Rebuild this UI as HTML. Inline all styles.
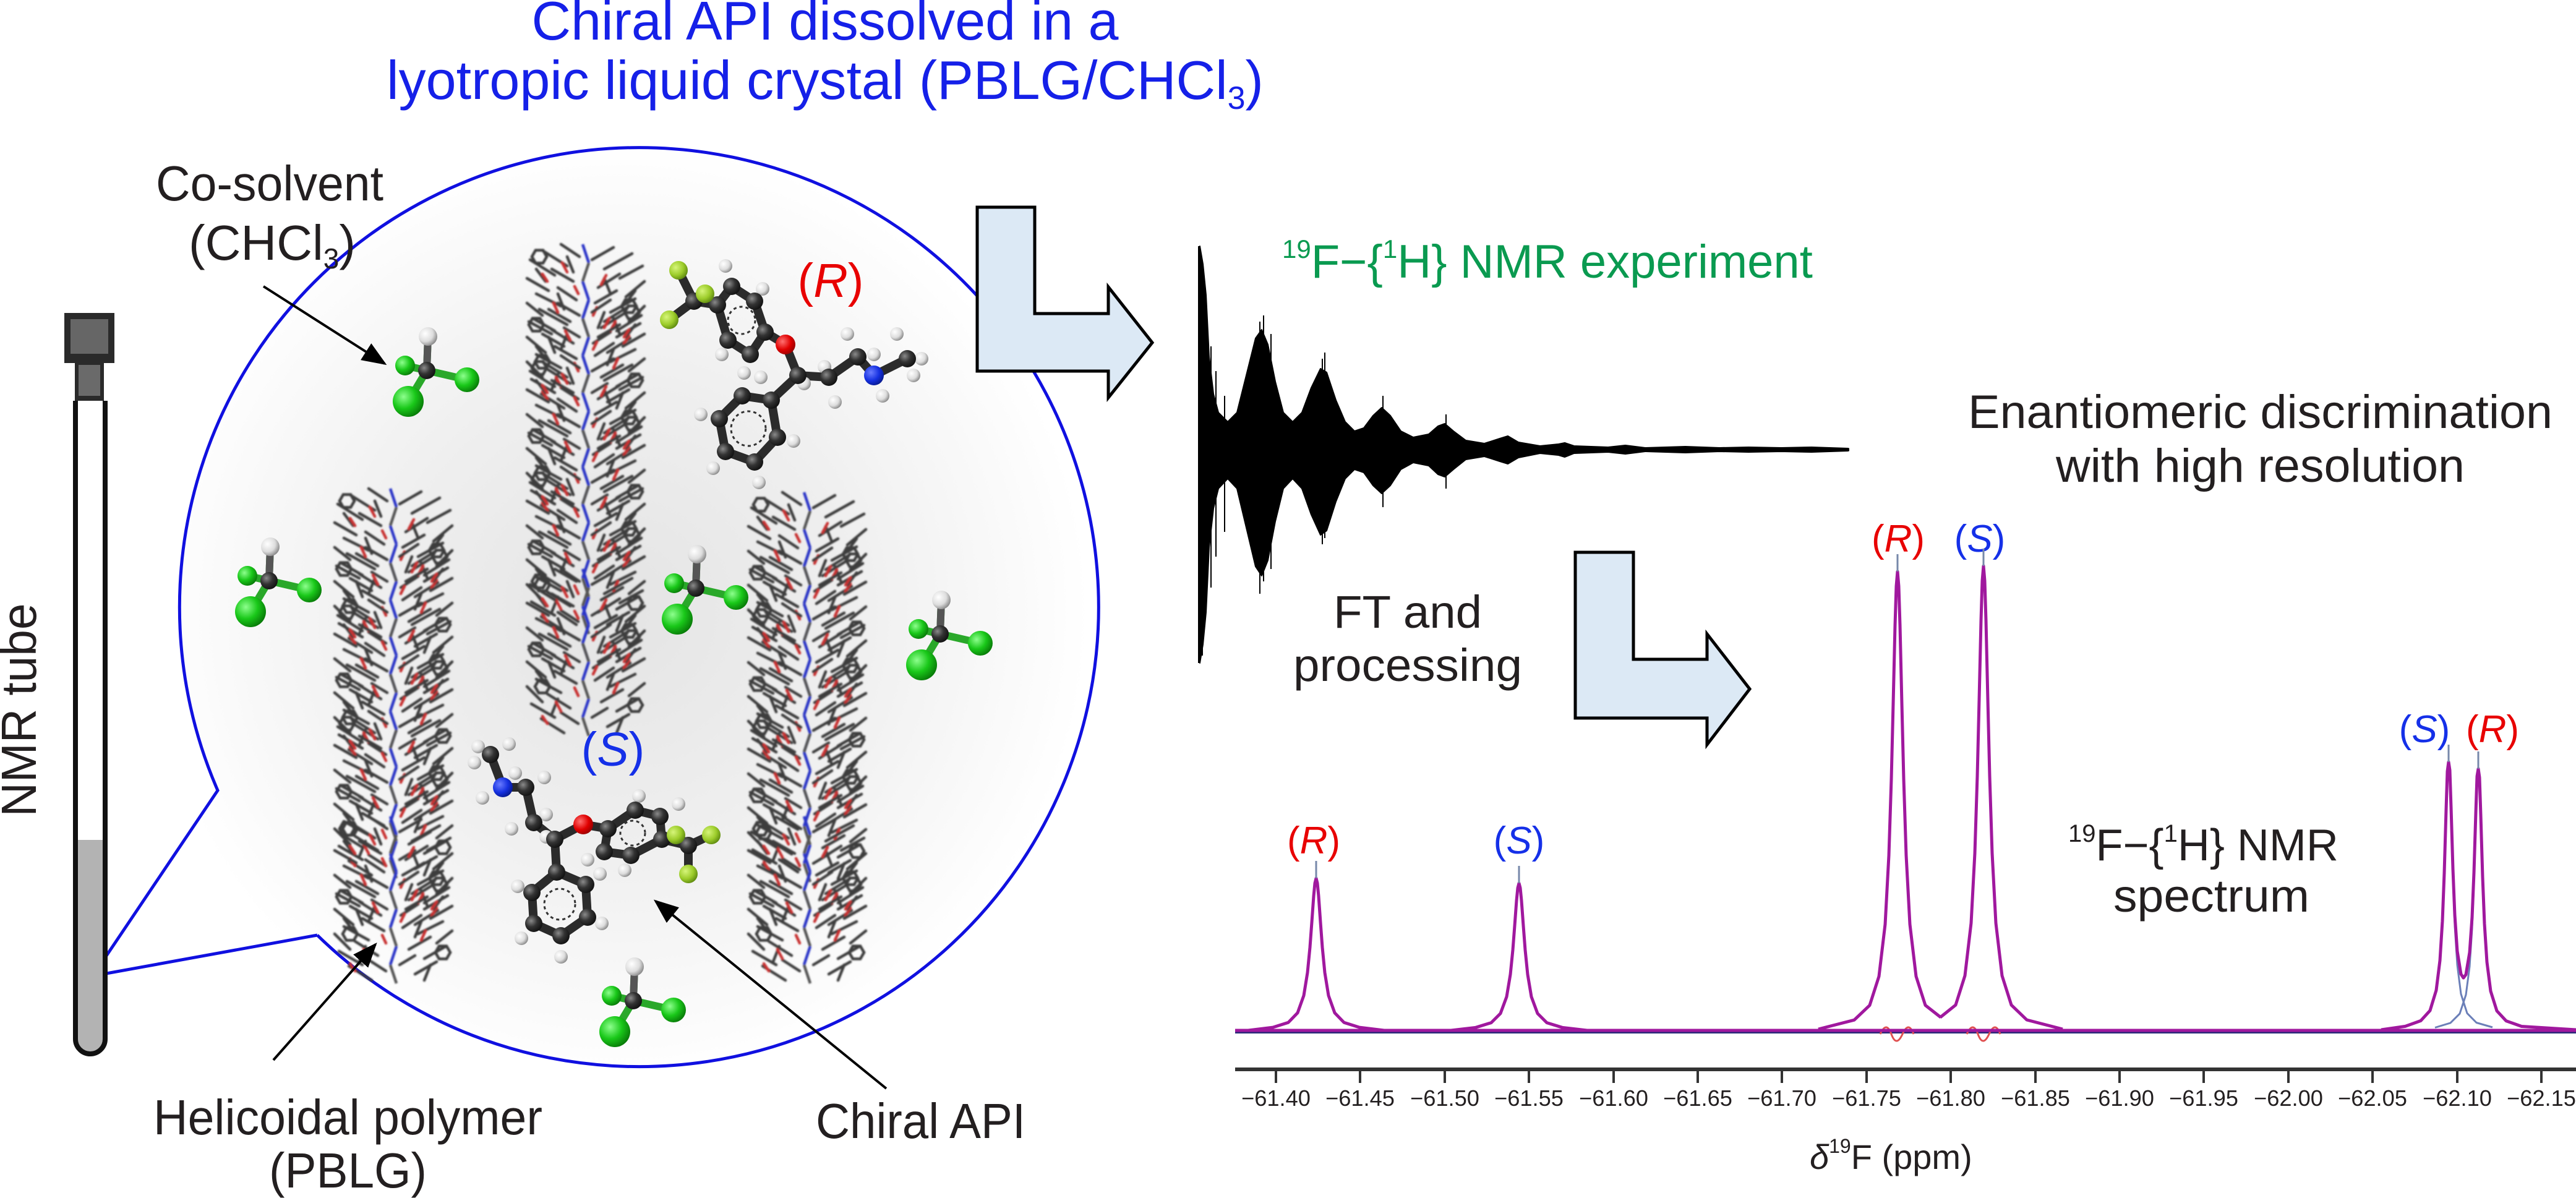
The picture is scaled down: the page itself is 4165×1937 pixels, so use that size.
<!DOCTYPE html>
<html><head><meta charset="utf-8"><style>
html,body{margin:0;padding:0;background:#fff;}
svg{display:block;}
text{font-family:"Liberation Sans",Arial,sans-serif;}
</style></head><body>
<svg xmlns="http://www.w3.org/2000/svg" xmlns:xlink="http://www.w3.org/1999/xlink" width="4165" height="1937" viewBox="0 0 4165 1937">
<defs>
<radialGradient id="glow" cx="1000" cy="990" r="760" gradientUnits="userSpaceOnUse">
<stop offset="0" stop-color="#e4e4e4"/><stop offset="0.5" stop-color="#efefef"/><stop offset="0.85" stop-color="#fafafa"/><stop offset="1" stop-color="#ffffff"/>
</radialGradient>
<radialGradient id="gC" cx="0.35" cy="0.35" r="0.7"><stop offset="0" stop-color="#8a8a8a"/><stop offset="0.5" stop-color="#333"/><stop offset="1" stop-color="#111"/></radialGradient>
<radialGradient id="gH" cx="0.35" cy="0.35" r="0.7"><stop offset="0" stop-color="#ffffff"/><stop offset="0.6" stop-color="#dddddd"/><stop offset="1" stop-color="#888"/></radialGradient>
<radialGradient id="gO" cx="0.35" cy="0.35" r="0.7"><stop offset="0" stop-color="#ff7070"/><stop offset="0.6" stop-color="#e00000"/><stop offset="1" stop-color="#900"/></radialGradient>
<radialGradient id="gN" cx="0.35" cy="0.35" r="0.7"><stop offset="0" stop-color="#6a7cff"/><stop offset="0.6" stop-color="#1530e0"/><stop offset="1" stop-color="#081a90"/></radialGradient>
<radialGradient id="gF" cx="0.35" cy="0.35" r="0.7"><stop offset="0" stop-color="#d6f57a"/><stop offset="0.6" stop-color="#9ccc2a"/><stop offset="1" stop-color="#5f8a10"/></radialGradient>
<radialGradient id="gCl" cx="0.35" cy="0.35" r="0.7"><stop offset="0" stop-color="#8dff8d"/><stop offset="0.55" stop-color="#19c819"/><stop offset="1" stop-color="#087a08"/></radialGradient>
<filter id="bl" x="-10%" y="-10%" width="120%" height="120%"><feGaussianBlur stdDeviation="1.2"/></filter>
<marker id="ahb" viewBox="0 0 10 10" refX="9" refY="5" markerWidth="10" markerHeight="10" orient="auto"><path d="M0 1 L10 5 L0 9 z" fill="#000"/></marker>

<g id="seg">
<g stroke="#3c3c3c" stroke-width="4.5" stroke-linecap="round" fill="none">
<path d="M-10 20 L-40 0 M-30 35 L-70 10 M-50 50 L-90 25 M-20 60 L-55 40 M-60 75 L-95 55 M-15 90 L-45 70 M-40 100 L-80 80 M-70 115 L-95 95 M-25 125 L-60 105 M-50 140 L-85 120 M-10 150 L-35 135 M-35 165 L-70 145"/>
<path d="M10 25 L45 5 M30 40 L75 15 M55 55 L92 35 M20 70 L55 48 M65 85 L95 60 M15 95 L50 75 M40 110 L80 88 M70 125 L95 100 M25 135 L62 112 M50 150 L88 128 M12 160 L40 142 M35 175 L72 152"/>
<path d="M-30 20 L-20 45 M30 55 L40 80 M-45 80 L-35 105 M45 120 L55 145 M-60 150 L-50 175 M-80 40 L-65 60 M80 75 L65 95"/>
<polygon points="-63,20 -69,30.4 -81,30.4 -87,20 -81,9.6 -69,9.6"/>
<polygon points="82,100 76,110.4 64,110.4 58,100 64,89.6 76,89.6"/>
<polygon points="-68,130 -74,140.4 -86,140.4 -92,130 -86,119.6 -74,119.6"/>
</g>
<path d="M-5 0 L5 30 M-5 60 L5 90 M-5 120 L5 150" stroke="#2a36c8" stroke-width="4.5"/>
<path d="M5 30 L-5 60 M5 90 L-5 120 M5 150 L-5 180" stroke="#555" stroke-width="4.5"/>
<path d="M-30 45 L-38 30 M25 65 L33 50 M-45 110 L-52 95 M40 140 L48 125 M-12 80 L-18 68 M12 115 L18 102 M-62 60 L-70 48 M62 160 L70 148" stroke="#c83030" stroke-width="4.5" stroke-linecap="round"/>
</g>
<g id="seg2"><use xlink:href="#seg"/><use xlink:href="#seg" transform="translate(0 90) scale(-1 1)"/></g>

<g id="chcl">
<path d="M0 0 L2 -55 M0 0 L65 15 M0 0 L-30 50 M0 0 L-35 -8" stroke="#2aa82a" stroke-width="12"/>
<line x1="0" y1="0" x2="2" y2="-55" stroke="#555" stroke-width="12"/>
<circle cx="2" cy="-55" r="15" fill="url(#gH)"/>
<circle cx="-35" cy="-8" r="16" fill="url(#gCl)"/>
<circle cx="0" cy="0" r="14" fill="url(#gC)"/>
<circle cx="65" cy="15" r="20" fill="url(#gCl)"/>
<circle cx="-30" cy="50" r="25" fill="url(#gCl)"/>
</g>
</defs>

<!-- speech bubble circle -->
<path d="M513 1512 L150 1578 L352 1278 A743 743 0 1 1 513 1512" fill="url(#glow)" stroke="#1010e0" stroke-width="5"/>

<!-- polymer columns -->
<g filter="url(#bl)">
<use xlink:href="#seg2" transform="translate(636 790)"/><use xlink:href="#seg2" transform="translate(636 970)"/><use xlink:href="#seg2" transform="translate(636 1150)"/><use xlink:href="#seg2" transform="translate(636 1320)"/>
<use xlink:href="#seg2" transform="translate(947 395)"/><use xlink:href="#seg2" transform="translate(947 575)"/><use xlink:href="#seg2" transform="translate(947 755)"/><use xlink:href="#seg2" transform="translate(947 920)"/>
<use xlink:href="#seg2" transform="translate(1305 796)"/><use xlink:href="#seg2" transform="translate(1305 976)"/><use xlink:href="#seg2" transform="translate(1305 1156)"/><use xlink:href="#seg2" transform="translate(1305 1320)"/>
</g>

<!-- (R) molecule -->
<path d="M1122 487 L1097 437 M1122 487 L1140 475 M1122 487 L1082 517 M1122 487 L1160 493 L1183 463 L1220 487 L1237 537 L1213 573 L1177 550 L1160 493 M1237 537 L1270 557 L1290 607 L1340 610 L1387 577 L1413 607 L1467 580 M1290 607 L1247 647 L1200 640 L1163 677 L1173 730 L1220 747 L1257 707 L1247 647" fill="none" stroke="#2b2b2b" stroke-width="14" stroke-linecap="round" stroke-linejoin="round"/>
<circle cx="1199" cy="518" r="22" fill="none" stroke="#333" stroke-width="3" stroke-dasharray="5 5"/>
<circle cx="1210" cy="693" r="28" fill="none" stroke="#333" stroke-width="3" stroke-dasharray="5 5"/>
<g fill="url(#gH)">
<circle cx="1173" cy="430" r="11"/><circle cx="1233" cy="467" r="11"/><circle cx="1167" cy="573" r="11"/><circle cx="1230" cy="610" r="11"/><circle cx="1203" cy="603" r="11"/><circle cx="1300" cy="620" r="11"/><circle cx="1333" cy="593" r="11"/><circle cx="1350" cy="650" r="11"/><circle cx="1370" cy="540" r="11"/><circle cx="1413" cy="573" r="11"/><circle cx="1427" cy="640" r="11"/><circle cx="1450" cy="540" r="11"/><circle cx="1490" cy="580" r="11"/><circle cx="1477" cy="607" r="11"/><circle cx="1133" cy="670" r="11"/><circle cx="1283" cy="713" r="11"/><circle cx="1153" cy="757" r="11"/><circle cx="1227" cy="780" r="11"/>
</g>
<g fill="url(#gC)">
<circle cx="1122" cy="487" r="14"/><circle cx="1160" cy="493" r="14"/><circle cx="1183" cy="463" r="14"/><circle cx="1220" cy="487" r="14"/><circle cx="1237" cy="537" r="14"/><circle cx="1213" cy="573" r="14"/><circle cx="1177" cy="550" r="14"/><circle cx="1290" cy="607" r="14"/><circle cx="1340" cy="610" r="14"/><circle cx="1387" cy="577" r="14"/><circle cx="1467" cy="580" r="14"/><circle cx="1247" cy="647" r="14"/><circle cx="1200" cy="640" r="14"/><circle cx="1163" cy="677" r="14"/><circle cx="1173" cy="730" r="14"/><circle cx="1220" cy="747" r="14"/><circle cx="1257" cy="707" r="14"/>
</g>
<circle cx="1097" cy="437" r="15" fill="url(#gF)"/><circle cx="1140" cy="475" r="15" fill="url(#gF)"/><circle cx="1082" cy="517" r="15" fill="url(#gF)"/>
<circle cx="1270" cy="557" r="16" fill="url(#gO)"/><circle cx="1413" cy="607" r="16" fill="url(#gN)"/>

<!-- (S) molecule -->
<path d="M793 1220 L813 1273 L850 1273 L863 1330 L897 1357 L943 1333 L983 1340 L1027 1310 L1067 1320 L1070 1357 L1020 1383 L977 1377 L983 1340 M1070 1357 L1113 1367 L1093 1350 M1113 1367 L1150 1350 M1113 1367 L1113 1413 M897 1357 L900 1410 L947 1430 L950 1483 L907 1513 L863 1493 L860 1443 L900 1410" fill="none" stroke="#2b2b2b" stroke-width="14" stroke-linecap="round" stroke-linejoin="round"/>
<circle cx="1023" cy="1347" r="20" fill="none" stroke="#333" stroke-width="3" stroke-dasharray="5 5"/>
<circle cx="905" cy="1462" r="25" fill="none" stroke="#333" stroke-width="3" stroke-dasharray="5 5"/>
<g fill="url(#gH)">
<circle cx="773" cy="1207" r="11"/><circle cx="823" cy="1203" r="11"/><circle cx="767" cy="1233" r="11"/><circle cx="780" cy="1290" r="11"/><circle cx="833" cy="1250" r="11"/><circle cx="880" cy="1257" r="11"/><circle cx="827" cy="1340" r="11"/><circle cx="883" cy="1317" r="11"/><circle cx="883" cy="1353" r="11"/><circle cx="1033" cy="1287" r="11"/><circle cx="1097" cy="1300" r="11"/><circle cx="950" cy="1390" r="11"/><circle cx="1010" cy="1407" r="11"/><circle cx="970" cy="1413" r="11"/><circle cx="837" cy="1433" r="11"/><circle cx="973" cy="1493" r="11"/><circle cx="843" cy="1517" r="11"/><circle cx="907" cy="1547" r="11"/>
</g>
<g fill="url(#gC)">
<circle cx="793" cy="1220" r="14"/><circle cx="850" cy="1273" r="14"/><circle cx="863" cy="1330" r="14"/><circle cx="897" cy="1357" r="14"/><circle cx="983" cy="1340" r="14"/><circle cx="1027" cy="1310" r="14"/><circle cx="1067" cy="1320" r="14"/><circle cx="1070" cy="1357" r="14"/><circle cx="1020" cy="1383" r="14"/><circle cx="977" cy="1377" r="14"/><circle cx="1113" cy="1367" r="14"/><circle cx="900" cy="1410" r="14"/><circle cx="947" cy="1430" r="14"/><circle cx="950" cy="1483" r="14"/><circle cx="907" cy="1513" r="14"/><circle cx="863" cy="1493" r="14"/><circle cx="860" cy="1443" r="14"/>
</g>
<circle cx="1093" cy="1350" r="15" fill="url(#gF)"/><circle cx="1150" cy="1350" r="15" fill="url(#gF)"/><circle cx="1113" cy="1413" r="15" fill="url(#gF)"/>
<circle cx="943" cy="1333" r="16" fill="url(#gO)"/><circle cx="813" cy="1273" r="16" fill="url(#gN)"/>

<!-- CHCl3 -->
<use xlink:href="#chcl" transform="translate(690 599)"/>
<use xlink:href="#chcl" transform="translate(435 939)"/>
<use xlink:href="#chcl" transform="translate(1125 951)"/>
<use xlink:href="#chcl" transform="translate(1520 1025)"/>
<use xlink:href="#chcl" transform="translate(1024 1618)"/>

<!-- NMR tube -->
<rect x="104" y="506" width="81" height="81" fill="#2a2a2a"/>
<rect x="114" y="516" width="61" height="56" fill="#666"/>
<rect x="121" y="587" width="47" height="61" fill="#2a2a2a"/>
<rect x="127" y="590" width="35" height="50" fill="#6a6a6a"/>
<path d="M122 1358 L122 1680 A24 24 0 0 0 170 1680 L170 1358 Z" fill="#b3b3b3"/>
<path d="M122 648 L122 1680 A24 24 0 0 0 170 1680 L170 648" fill="none" stroke="#111" stroke-width="8"/>
<text x="58" y="1148" font-size="80" fill="#231f20" text-anchor="middle" transform="rotate(-90 58 1148)" textLength="345" lengthAdjust="spacingAndGlyphs">NMR tube</text>

<!-- title -->
<text x="1334" y="64" font-size="88" fill="#1520e8" text-anchor="middle">Chiral API dissolved in a</text>
<text x="1334" y="160" font-size="88" fill="#1520e8" text-anchor="middle">lyotropic liquid crystal (PBLG/CHCl<tspan font-size="52" dy="16">3</tspan><tspan dy="-16">)</tspan></text>

<!-- left labels -->
<text x="252" y="324" font-size="80" fill="#231f20" textLength="368" lengthAdjust="spacingAndGlyphs">Co-solvent</text>
<text x="305" y="420" font-size="80" fill="#231f20">(CHCl<tspan font-size="46" dy="14">3</tspan><tspan dy="-14">)</tspan></text>
<line x1="426" y1="463" x2="622" y2="588" stroke="#000" stroke-width="4" marker-end="url(#ahb)"/>
<text x="248" y="1834" font-size="80" fill="#231f20" textLength="629" lengthAdjust="spacingAndGlyphs">Helicoidal polymer</text>
<text x="435" y="1920" font-size="80" fill="#231f20" textLength="255" lengthAdjust="spacingAndGlyphs">(PBLG)</text>
<line x1="442" y1="1714" x2="607" y2="1527" stroke="#000" stroke-width="4" marker-end="url(#ahb)"/>
<text x="1319" y="1840" font-size="80" fill="#231f20" textLength="339" lengthAdjust="spacingAndGlyphs">Chiral API</text>
<line x1="1433" y1="1760" x2="1060" y2="1457" stroke="#000" stroke-width="4" marker-end="url(#ahb)"/>

<text x="1343" y="480" font-size="77" fill="#e80000" text-anchor="middle">(<tspan font-style="italic">R</tspan>)</text>
<text x="991" y="1238" font-size="77" fill="#1530e8" text-anchor="middle">(<tspan font-style="italic">S</tspan>)</text>

<!-- big arrows -->
<polygon points="1580,335 1673,335 1673,507 1792,507 1792,464 1863,554 1792,643 1792,600 1580,600" fill="#dce9f5" stroke="#000" stroke-width="5"/>
<polygon points="2547,893 2641,893 2641,1066 2760,1066 2760,1025 2829,1114 2760,1204 2760,1161 2547,1161" fill="#dce9f5" stroke="#000" stroke-width="5"/>

<!-- FID -->
<polygon fill="#000" stroke="#000" stroke-width="2" stroke-linejoin="round" points="1938,727 1940,398 1945,427 1950,477 1955,577 1962,637 1970,667 1985,682 2000,667 2015,607 2030,547 2040,533 2050,557 2062,617 2075,667 2090,682 2105,667 2120,627 2135,596 2145,602 2160,647 2175,682 2190,697 2205,692 2220,672 2234,659 2248,672 2265,697 2285,707 2310,702 2325,689 2336,685 2350,697 2370,712 2400,717 2425,709 2438,705 2455,715 2490,721 2520,718 2530,716 2545,721 2600,723 2628,720 2660,724 2725,722 2780,724 2827,723 2880,724 2929,723 2988,725 2988,729 2929,731 2880,730 2827,731 2780,730 2725,732 2660,730 2628,734 2600,731 2545,733 2530,739 2520,736 2490,733 2455,740 2438,750 2425,746 2400,738 2370,743 2350,759 2336,771 2325,767 2310,753 2285,748 2265,759 2248,785 2234,798 2220,785 2205,764 2190,759 2175,774 2160,811 2145,858 2135,865 2120,832 2105,790 2090,774 2075,790 2062,843 2050,906 2040,931 2030,916 2015,853 2000,790 1985,774 1970,790 1962,822 1955,885 1950,990 1945,1042 1940,1072"/>
<path d="M1938 398 L1938 1072 M1944 440 L1944 1060 M1949 480 L1949 1000 M1958 560 L1958 950 M1966 600 L1966 900 M1980 640 L1980 860 M2037 520 L2037 960 M2043 510 L2043 940 M2055 540 L2055 920 M2138 580 L2138 880 M2142 570 L2142 870 M2236 640 L2236 820 M2338 670 L2338 790" stroke="#000" stroke-width="2"/>
<line x1="2950" y1="727" x2="2990" y2="727" stroke="#000" stroke-width="5"/>

<text x="2073" y="449" font-size="76" fill="#0a9a50"><tspan font-size="42" dy="-32">19</tspan><tspan dy="32">F−{</tspan><tspan font-size="42" dy="-32">1</tspan><tspan dy="32">H} NMR experiment</tspan></text>

<text x="2156" y="1015" font-size="74" fill="#231f20" textLength="240" lengthAdjust="spacingAndGlyphs">FT and</text>
<text x="2091" y="1101" font-size="74" fill="#231f20" textLength="370" lengthAdjust="spacingAndGlyphs">processing</text>

<text x="3182" y="692" font-size="76" fill="#231f20" textLength="945" lengthAdjust="spacingAndGlyphs">Enantiomeric discrimination</text>
<text x="3324" y="779" font-size="76" fill="#231f20" textLength="661" lengthAdjust="spacingAndGlyphs">with high resolution</text>

<text x="3344" y="1391" font-size="72" fill="#231f20"><tspan font-size="40" dy="-30">19</tspan><tspan dy="30">F−{</tspan><tspan font-size="40" dy="-30">1</tspan><tspan dy="30">H} NMR</tspan></text>
<text x="3417" y="1474" font-size="74" fill="#231f20" textLength="317" lengthAdjust="spacingAndGlyphs">spectrum</text>

<!-- peak labels -->
<text x="2124" y="1380" font-size="62" fill="#e80000" text-anchor="middle">(<tspan font-style="italic">R</tspan>)</text>
<text x="2456" y="1380" font-size="62" fill="#1530e8" text-anchor="middle">(<tspan font-style="italic">S</tspan>)</text>
<text x="3069" y="892" font-size="62" fill="#e80000" text-anchor="middle">(<tspan font-style="italic">R</tspan>)</text>
<text x="3201" y="892" font-size="62" fill="#1530e8" text-anchor="middle">(<tspan font-style="italic">S</tspan>)</text>
<text x="3920" y="1200" font-size="62" fill="#1530e8" text-anchor="middle">(<tspan font-style="italic">S</tspan>)</text>
<text x="4030" y="1200" font-size="62" fill="#e80000" text-anchor="middle">(<tspan font-style="italic">R</tspan>)</text>

<!-- spectrum -->
<g fill="none" stroke-linejoin="round">
<path d="M3961 1257.7 L3963 1319 L3966 1420.8 L3969 1497.3 L3973 1560 L3979 1607 L3989 1638.3 L4004 1653.5 L4030 1661" stroke="#6b7fb8" stroke-width="3"/>
<path d="M3937 1661.5 L3962 1653.9 L3977 1639 L3987 1608.5 L3993 1562.7 L3997 1501.6 L4000 1427 L4003 1327.8" stroke="#6b7fb8" stroke-width="3"/>
<line x1="1997" y1="1669" x2="4165" y2="1669" stroke="#2a2a7a" stroke-width="4"/>
<path d="M3040 1672 Q3050 1650 3058 1672 T3076 1672 T3094 1672 M3180 1672 Q3190 1650 3198 1672 T3216 1672 T3234 1672" stroke="#e05050" stroke-width="3"/>
<g stroke="#a0189e" stroke-width="5">
<path d="M1997 1666 L4165 1666"/>
<path d="M2018 1666 L2058 1661.1 L2083 1653.2 L2098 1637.6 L2108 1609.7 L2114 1572.6 L2118 1531.6 L2121 1491.1 L2124 1448.9 L2126 1427.9 L2128 1420 L2130 1427.9 L2132 1448.9 L2135 1491.1 L2138 1531.6 L2142 1572.6 L2148 1609.7 L2158 1637.6 L2173 1653.2 L2198 1661.1 L2238 1666"/>
<path d="M2346 1666 L2386 1661.3 L2411 1653.6 L2426 1638.6 L2436 1611.6 L2442 1575.7 L2446 1536 L2449 1496.8 L2452 1456 L2454 1435.6 L2456 1428 L2458 1435.6 L2460 1456 L2463 1496.8 L2466 1536 L2470 1575.7 L2476 1611.6 L2486 1638.6 L2501 1653.6 L2526 1661.3 L2566 1666"/>
<path d="M2940 1664 L2998 1649.2 L3023 1625.4 L3038 1578.6 L3048 1494.6 L3054 1383.2 L3058 1259.8 L3061 1138 L3064 1010.9 L3066 947.8 L3068 924 L3070 947.8 L3072 1010.9 L3075 1138 L3078 1259.8 L3082 1383.2 L3088 1494.6 L3098 1578.6 L3113 1625.4 L3138 1645"/>
<path d="M3137 1645 L3162 1624.9 L3177 1577.5 L3187 1492.5 L3193 1379.7 L3197 1254.9 L3200 1131.6 L3203 1003 L3205 939.1 L3207 915 L3209 939.1 L3211 1003 L3214 1131.6 L3217 1254.9 L3221 1379.7 L3227 1492.5 L3237 1577.5 L3252 1624.9 L3277 1649 L3335 1664"/>
<path d="M3850 1665 L3889 1659.4 L3914 1650.4 L3929 1633.9 L3939 1601.2 L3945 1553.1 L3949 1489.4 L3952 1412 L3955 1309.2 L3957 1247.1 L3959 1232 L3961 1245.3 L3963 1305.4 L3966 1405.2 L3969 1479.3 L3973 1537.8 L3979 1575 L3983 1581.1 L3987 1575.7 L3993 1539.9 L3997 1483.1 L4000 1411 L4003 1313.9 L4005 1255.2 L4007 1243 L4009 1257.1 L4011 1317.7 L4014 1418 L4017 1493.5 L4021 1555.6 L4027 1602.5 L4037 1634.4 L4052 1650.6 L4077 1659.5 L4165 1665"/>
</g>
<path d="M2128 1392 V1420 M2456 1400 V1428 M3068 896 V924 M3207 887 V915 M3959 1204 V1232 M4007 1215 V1243" stroke="#7788aa" stroke-width="3"/>
</g>
<line x1="1997" y1="1729" x2="4165" y2="1729" stroke="#333" stroke-width="6"/>
<path d="M2063 1729 V1751 M2199 1729 V1751 M2336 1729 V1751 M2472 1729 V1751 M2609 1729 V1751 M2745 1729 V1751 M2881 1729 V1751 M3018 1729 V1751 M3154 1729 V1751 M3291 1729 V1751 M3427 1729 V1751 M3563 1729 V1751 M3700 1729 V1751 M3836 1729 V1751 M3973 1729 V1751 M4109 1729 V1751" stroke="#333" stroke-width="4"/>
<g fill="#231f20" font-size="36" text-anchor="middle">
<text x="2063" y="1788" textLength="112" lengthAdjust="spacingAndGlyphs">−61.40</text><text x="2199" y="1788" textLength="112" lengthAdjust="spacingAndGlyphs">−61.45</text><text x="2336" y="1788" textLength="112" lengthAdjust="spacingAndGlyphs">−61.50</text><text x="2472" y="1788" textLength="112" lengthAdjust="spacingAndGlyphs">−61.55</text>
<text x="2609" y="1788" textLength="112" lengthAdjust="spacingAndGlyphs">−61.60</text><text x="2745" y="1788" textLength="112" lengthAdjust="spacingAndGlyphs">−61.65</text><text x="2881" y="1788" textLength="112" lengthAdjust="spacingAndGlyphs">−61.70</text><text x="3018" y="1788" textLength="112" lengthAdjust="spacingAndGlyphs">−61.75</text>
<text x="3154" y="1788" textLength="112" lengthAdjust="spacingAndGlyphs">−61.80</text><text x="3291" y="1788" textLength="112" lengthAdjust="spacingAndGlyphs">−61.85</text><text x="3427" y="1788" textLength="112" lengthAdjust="spacingAndGlyphs">−61.90</text><text x="3563" y="1788" textLength="112" lengthAdjust="spacingAndGlyphs">−61.95</text>
<text x="3700" y="1788" textLength="112" lengthAdjust="spacingAndGlyphs">−62.00</text><text x="3836" y="1788" textLength="112" lengthAdjust="spacingAndGlyphs">−62.05</text><text x="3973" y="1788" textLength="112" lengthAdjust="spacingAndGlyphs">−62.10</text><text x="4109" y="1788" textLength="112" lengthAdjust="spacingAndGlyphs">−62.15</text>
</g>
<text x="2926" y="1890" font-size="56" fill="#231f20"><tspan font-style="italic">δ</tspan><tspan font-size="32" dy="-26">19</tspan><tspan dy="26">F (ppm)</tspan></text>
</svg>
</body></html>
